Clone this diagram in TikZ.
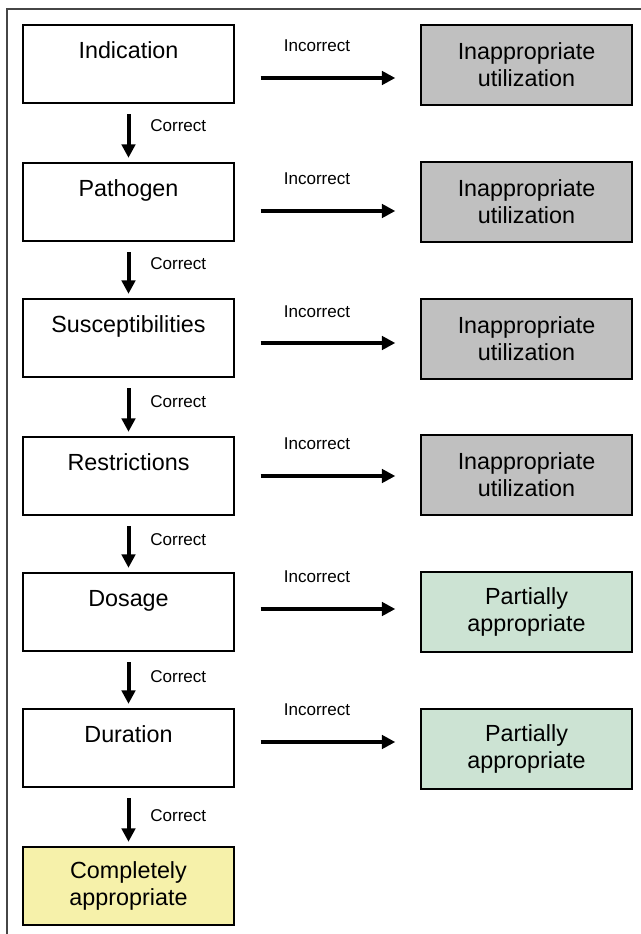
\documentclass[tikz,border=0pt]{standalone}
\usepackage{fontspec}
\setmainfont{Liberation Sans}
\usetikzlibrary{arrows.meta,calc}
\definecolor{grayfill}{RGB}{192,192,192}
\definecolor{greenfill}{RGB}{204,227,211}
\definecolor{yellowfill}{RGB}{246,241,170}
\definecolor{framegray}{RGB}{70,70,70}
\begin{document}
\begin{tikzpicture}[x=0.75pt,y=-0.75pt,
  box/.style={draw=black, line width=1.3pt, minimum width=158pt, minimum height=59pt,
    inner sep=0pt, align=center, font=\fontsize{17.5}{20.3}\selectfont},
  leftbox/.style={box, fill=white},
  badbox/.style={box, fill=grayfill, minimum height=60pt},
  partbox/.style={box, fill=greenfill, minimum height=60pt},
  goodbox/.style={box, fill=yellowfill},
  harrow/.style={line width=3pt, -{Triangle[length=10pt,width=10pt]}},
  varrow/.style={line width=3pt, -{Triangle[length=10pt,width=10pt]}},
  lab/.style={font=\fontsize{12.8}{15}\selectfont, inner sep=0pt}
]
\useasboundingbox (0,0) rectangle (641,934);
\draw[framegray, line width=0.8pt] (641,9) -- (7,9) -- (7,934);

% left column
\node[leftbox] (l1) at (128.5,64)  {Indication\\\mbox{}};
\node[leftbox] (l2) at (128.5,202) {Pathogen\\\mbox{}};
\node[leftbox] (l3) at (128.5,338) {Susceptibilities\\\mbox{}};
\node[leftbox] (l4) at (128.5,476) {Restrictions\\\mbox{}};
\node[leftbox] (l5) at (128.5,612) {Dosage\\\mbox{}};
\node[leftbox] (l6) at (128.5,748) {Duration\\\mbox{}};
\node[goodbox] (l7) at (128.5,886) {Completely\\appropriate};

% right column
\node[badbox] (r1) at (526.5,65)  {Inappropriate\\utilization};
\node[badbox] (r2) at (526.5,202) {Inappropriate\\utilization};
\node[badbox] (r3) at (526.5,339) {Inappropriate\\utilization};
\node[badbox] (r4) at (526.5,475) {Inappropriate\\utilization};
\node[partbox] (r5) at (526.5,612) {Partially\\appropriate};
\node[partbox] (r6) at (526.5,749) {Partially\\appropriate};

% horizontal arrows
\draw[harrow] ($(l1.east)+(26,14)$) -- ($(r1.west)+(-25,13)$);
\draw[harrow] ($(l2.east)+(26,9)$)  -- ($(r2.west)+(-25,9)$);
\draw[harrow] ($(l3.east)+(26,5)$)  -- ($(r3.west)+(-25,4)$);
\draw[harrow] ($(l4.east)+(26,0)$)  -- ($(r4.west)+(-25,1)$);
\draw[harrow] ($(l5.east)+(26,-3)$) -- ($(r5.west)+(-25,-3)$);
\draw[harrow] ($(l6.east)+(26,-6)$) -- ($(r6.west)+(-25,-7)$);

\node[lab] (i1) at (317,46)  {Incorrect};
\node[lab] (i2) at (317,179) {Incorrect};
\node[lab] (i3) at (317,312) {Incorrect};
\node[lab] (i4) at (317,444) {Incorrect};
\node[lab] (i5) at (317,577) {Incorrect};
\node[lab] (i6) at (317,710) {Incorrect};

% vertical arrows
\draw[varrow] ($(l1.south)+(0,10)$) -- ($(l2.north)+(0,-4)$);
\draw[varrow] ($(l2.south)+(0,10)$) -- ($(l3.north)+(0,-4)$);
\draw[varrow] ($(l3.south)+(0,10)$) -- ($(l4.north)+(0,-4)$);
\draw[varrow] ($(l4.south)+(0,10)$) -- ($(l5.north)+(0,-4)$);
\draw[varrow] ($(l5.south)+(0,10)$) -- ($(l6.north)+(0,-4)$);
\draw[varrow] ($(l6.south)+(0,10)$) -- ($(l7.north)+(0,-4)$);

\node[lab, anchor=west] (c1) at (150,126) {Correct};
\node[lab, anchor=west] (c2) at (150,264) {Correct};
\node[lab, anchor=west] (c3) at (150,402) {Correct};
\node[lab, anchor=west] (c4) at (150,540) {Correct};
\node[lab, anchor=west] (c5) at (150,677) {Correct};
\node[lab, anchor=west] (c6) at (150,816) {Correct};
\end{tikzpicture}
\end{document}
